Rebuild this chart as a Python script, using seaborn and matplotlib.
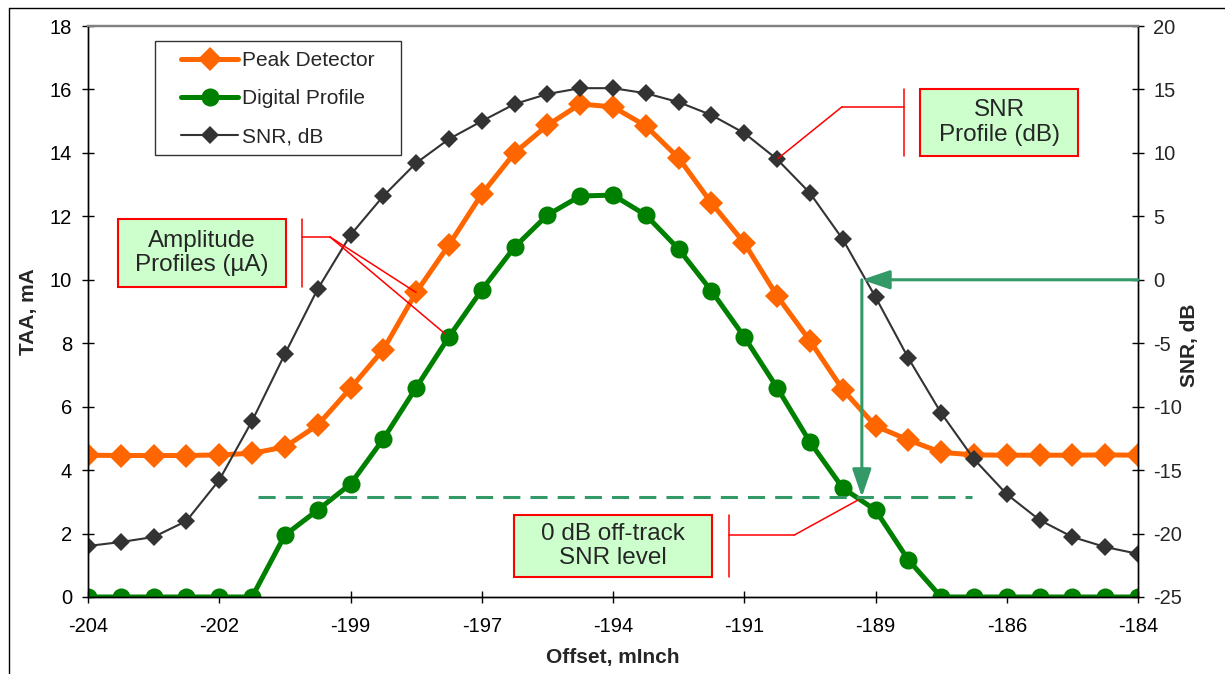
import numpy as np
import pandas as pd
import matplotlib
matplotlib.use('Agg')
import matplotlib.pyplot as plt
import seaborn as sns
from matplotlib.patches import Rectangle
from matplotlib.lines import Line2D

# offset positions (mInch), one per measured point
offsets = [-204.0, -203.375, -202.75, -202.125, -201.5, -200.875, -200.25, -199.625,
           -199.0, -198.375, -197.75, -197.125, -196.5, -195.875, -195.25, -194.625,
           -194.0, -193.375, -192.75, -192.125, -191.5, -190.875, -190.25, -189.625,
           -189.0, -188.375, -187.75, -187.125, -186.5, -185.875, -185.25, -184.625,
           -184.0]
tick_labels = ['-204', '-202', '-199', '-197', '-194', '-191', '-189', '-186', '-184']

peak_detector = [4.47, 4.46, 4.46, 4.46, 4.48, 4.53, 4.73, 5.42, 6.58, 7.8,
                 9.6, 11.1, 12.7, 14.0, 14.87, 15.54, 15.45, 14.85, 13.84, 12.42,
                 11.16, 9.49, 8.08, 6.54, 5.39, 4.95, 4.56, 4.48, 4.47, 4.47,
                 4.47, 4.48, 4.47]
digital_profile = [0, 0, 0, 0, 0, 0, 1.95, 2.74, 3.56, 4.98,
                   6.6, 8.2, 9.68, 11.03, 12.04, 12.64, 12.67, 12.04, 10.97, 9.65,
                   8.2, 6.6, 4.89, 3.44, 2.74, 1.17, 0, 0, 0, 0,
                   0, 0, 0]
snr_db = [-20.98, -20.67, -20.27, -19.01, -15.78, -11.13, -5.85, -0.73, 3.53, 6.6,
          9.2, 11.09, 12.5, 13.85, 14.64, 15.1, 15.1, 14.7, 14.0, 12.98,
          11.56, 9.5, 6.84, 3.2, -1.36, -6.17, -10.5, -14.13, -16.9, -18.93,
          -20.27, -21.06, -21.6]

snr_level_taa = 3.15   # TAA where SNR profile crosses 0 dB
cross_offset = -189.26

df = pd.DataFrame({'offset': offsets, 'peak': peak_detector,
                   'digital': digital_profile, 'snr': snr_db})

sns.set_style('white')
plt.rcParams['font.family'] = ['Liberation Sans', 'DejaVu Sans']
plt.rcParams['axes.unicode_minus'] = False

W, H = 1225, 674
fig = plt.figure(figsize=(W / 100, H / 100), dpi=100)
ax = fig.add_axes([88 / W, 1 - 597 / H, 1050 / W, 571 / H])
ax2 = ax.twinx()

orange = '#FF6600'
green = '#008000'
dark = '#333333'
sea = '#339966'

sns.lineplot(data=df, x='offset', y='peak', ax=ax, color=orange, lw=3.6,
             marker='D', markersize=12, markeredgewidth=0, label='Peak Detector')
sns.lineplot(data=df, x='offset', y='digital', ax=ax, color=green, lw=3.6,
             marker='o', markersize=13, markeredgewidth=0, label='Digital Profile')
sns.lineplot(data=df, x='offset', y='snr', ax=ax2, color=dark, lw=1.5,
             marker='D', markersize=9, markeredgewidth=0, label='SNR, dB')

ax.set_xlim(-204, -184)
ax.set_ylim(0, 18)
ax.set_yticks(range(0, 19, 2))
ax2.set_ylim(-25, 20)
ax2.set_yticks(range(-25, 21, 5))
ax.set_xticks(offsets[::4])
ax.set_xticklabels(tick_labels)

ax.tick_params(axis='both', direction='inout', length=8.7, width=1, labelsize=14.5,
               color='black', labelcolor='black')
ax.tick_params(axis='y', pad=7, left=True)
ax.tick_params(axis='x', pad=10, bottom=True)
ax2.tick_params(axis='y', direction='inout', length=8.7, width=1, labelsize=14.5,
                pad=6.5, right=True, color='black')

for a in (ax, ax2):
    for s in a.spines.values():
        s.set_linewidth(1)
        s.set_color('black')
    a.spines['top'].set_color('#808080')
    a.spines['top'].set_linewidth(1.6)

ax.set_xlabel('Offset, mInch', fontsize=15, fontweight='bold', labelpad=9)
ax.set_ylabel('TAA, mA', fontsize=15, fontweight='bold')
ax2.set_ylabel('SNR, dB', fontsize=15, fontweight='bold')
ax.yaxis.set_label_coords(-0.0476, 0.5)
ax2.yaxis.set_label_coords(1.04, 0.441)

# legend combining both axes, with a separate frame
ax.get_legend().remove()
ax2.get_legend().remove()
h1, l1 = ax.get_legend_handles_labels()
h2, l2 = ax2.get_legend_handles_labels()
fig.legend(h1 + h2, l1 + l2, loc='upper left',
           bbox_to_anchor=(181 / W, 1 - 51 / H), fontsize=15,
           frameon=False, borderpad=0, labelspacing=0.92,
           handlelength=2.75, handletextpad=0.2, borderaxespad=0)
fig.add_artist(Rectangle((155 / W, 1 - 155 / H), 246 / W, 114 / H,
                         transform=fig.transFigure, fill=False,
                         edgecolor='#333333', lw=1))

# 0 dB reference: arrows and dashed level line
ax2.annotate('', xy=(cross_offset, 0), xytext=(-184, 0),
             arrowprops=dict(arrowstyle='-|>,head_length=1.0,head_width=0.34',
                             mutation_scale=17, color=sea, lw=2.2,
                             shrinkA=0, shrinkB=0), zorder=6)
ax2.annotate('', xy=(cross_offset, snr_level_taa / 18 * 45 - 25),
             xytext=(cross_offset, 0),
             arrowprops=dict(arrowstyle='-|>,head_length=1.0,head_width=0.34',
                             mutation_scale=17, color=sea, lw=2.2,
                             shrinkA=0, shrinkB=0), zorder=6)
ax2.plot([-200.76, -187.16], [snr_level_taa / 18 * 45 - 25] * 2, color=sea,
         lw=2.2, dashes=(5.6, 3.3), zorder=5)

# callouts (drawn in TAA coordinates of the left axis, on top layer)
tr = ax.transData
red = '#FF0000'
callouts = [
    # box x0, x1, y0, y1, text, bar x, elbow x, elbow y, targets
    (-188.15, -185.14, 13.90, 16.02, 'SNR\nProfile (dB)', -188.46, -189.64, 15.45,
     [(-190.86, 13.82)]),
    (-203.43, -200.23, 9.77, 11.92, 'Amplitude\nProfiles (\u00b5A)', -199.92, -199.39, 11.35,
     [(-197.75, 9.6), (-197.2, 8.3)]),
    (-195.89, -192.11, 0.63, 2.59, '0 dB off-track\nSNR level', -191.79, -190.55, 1.95,
     [(-189.33, 3.06)]),
]
for x0, x1, y0, y1, txt, bx, ex, ey, targets in callouts:
    ax2.add_patch(Rectangle((x0, y0), x1 - x0, y1 - y0, transform=tr,
                            facecolor='#CCFFCC', edgecolor=red, lw=1.5, zorder=7))
    ax2.text((x0 + x1) / 2, (y0 + y1) / 2, txt, transform=tr, ha='center',
             va='center', fontsize=17.5, linespacing=1.15, zorder=8)
    ax2.plot([bx, bx], [y0, y1], transform=tr, color=red, lw=1.1, zorder=7)
    ax2.plot([bx, ex], [ey, ey], transform=tr, color=red, lw=1.1, zorder=7)
    for tx, ty in targets:
        ax2.plot([ex, tx], [ey, ty], transform=tr, color=red, lw=1.1, zorder=7)

# outer chart frame
fig.add_artist(Line2D([9 / W, 9 / W], [0, 1 - 8 / H], color='black', lw=1))
fig.add_artist(Line2D([9 / W, 1], [1 - 8 / H, 1 - 8 / H], color='black', lw=1))

fig.savefig('out.png', dpi=100)
